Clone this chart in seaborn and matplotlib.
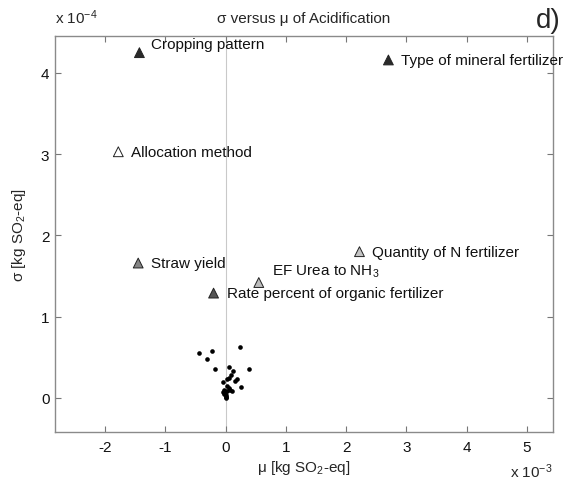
import matplotlib
matplotlib.use("Agg")
import matplotlib.pyplot as plt
import seaborn as sns
import pandas as pd
from matplotlib.ticker import FuncFormatter

# Labelled parameters: mean (mu) and standard deviation (sigma) of acidification
labels = ["Cropping pattern", "Type of mineral fertilizer", "Allocation method",
          "Straw yield", "EF Urea to NH$_3$", "Rate percent of organic fertilizer",
          "Quantity of N fertilizer"]
mu_lab = [-1.43e-3, 2.70e-3, -1.78e-3, -1.45e-3, 0.55e-3, -0.20e-3, 2.22e-3]
sigma_lab = [4.25e-4, 4.16e-4, 3.03e-4, 1.66e-4, 1.42e-4, 1.29e-4, 1.80e-4]
fills = ["#2a2a2a", "#2a2a2a", "#ffffff", "#858585", "#bdbdbd", "#555555", "#c4c4c4"]

# Remaining (minor) parameters
mu_dots = [-0.44e-3, -0.23e-3, -0.31e-3, -0.18e-3, 0.24e-3, 0.39e-3, 0.06e-3,
           0.12e-3, 0.09e-3, 0.055e-3, 0.03e-3, 0.19e-3, 0.15e-3, -0.05e-3,
           0.03e-3, 0.25e-3, 0.08e-3, 0.105e-3, -0.03e-3, -0.04e-3, -0.02e-3,
           0.0, 0.01e-3, 0.0, 0.02e-3, -0.01e-3, 0.05e-3, 0.0]
sigma_dots = [0.55e-4, 0.58e-4, 0.48e-4, 0.36e-4, 0.63e-4, 0.35e-4, 0.385e-4,
              0.335e-4, 0.28e-4, 0.245e-4, 0.235e-4, 0.235e-4, 0.205e-4, 0.20e-4,
              0.145e-4, 0.13e-4, 0.10e-4, 0.08e-4, 0.10e-4, 0.07e-4, 0.05e-4,
              0.03e-4, 0.01e-4, 0.0, 0.09e-4, 0.06e-4, 0.12e-4, 0.015e-4]

x_ticks = [-2, -1, 0, 1, 2, 3, 4, 5]
y_ticks = [0, 1, 2, 3, 4]

FS = 11

sns.set_style("ticks")
plt.rcParams["font.family"] = ["Liberation Sans", "DejaVu Sans"]
plt.rcParams["mathtext.fontset"] = "custom"
plt.rcParams["mathtext.rm"] = "Liberation Sans"
plt.rcParams["mathtext.it"] = "Liberation Sans:italic"
plt.rcParams["mathtext.default"] = "regular"

fig = plt.figure(figsize=(5.81, 4.81), dpi=100)
ax = fig.add_axes([55 / 581, 1 - 433 / 481, (553 - 55) / 581, (433 - 37) / 481])

ax.axvline(0, color="#c9c9c9", lw=0.8, zorder=0)

dots = pd.DataFrame({"mu": mu_dots, "sigma": sigma_dots})
sns.scatterplot(data=dots, x="mu", y="sigma", ax=ax, color="black", s=11,
                linewidth=0, marker="o", zorder=3)

lab = pd.DataFrame({"mu": mu_lab, "sigma": sigma_lab, "name": labels})
sns.scatterplot(data=lab, x="mu", y="sigma", hue="name", palette=dict(zip(labels, fills)),
                ax=ax, marker="^", s=50, edgecolor="#222222", linewidth=0.7,
                legend=False, zorder=4)

# text offsets in pixels (dx, dy) next to each marker
offsets = [(12, 9), (13, 0), (13, 0), (13, 0), (13, 12), (13, 0), (13, 0)]
for name, x, y, (dx, dy) in zip(labels, mu_lab, sigma_lab, offsets):
    ax.annotate(name, (x, y), xytext=(dx, dy), textcoords="offset pixels",
                ha="left", va="center", fontsize=FS, color="#111111")

ax.set_xlim(-2.83e-3, 5.43e-3)
ax.set_ylim(-0.42e-4, 4.455e-4)
ax.set_xticks([t * 1e-3 for t in x_ticks])
ax.set_yticks([t * 1e-4 for t in y_ticks])
ax.xaxis.set_major_formatter(FuncFormatter(lambda v, p: f"{v * 1e3:g}"))
ax.yaxis.set_major_formatter(FuncFormatter(lambda v, p: f"{v * 1e4:g}"))
ax.tick_params(direction="in", length=4, width=0.8, color="#777777",
               top=True, right=True, labelsize=FS, labelcolor="#111111")
ax.tick_params(axis="x", pad=6)
ax.tick_params(axis="y", pad=4)

for sp in ax.spines.values():
    sp.set_color("#8a8a8a")
    sp.set_linewidth(1.0)

ax.set_xlabel("μ [kg SO$_2$-eq]", fontsize=FS, labelpad=3)
ax.set_ylabel("σ [kg SO$_2$-eq]", fontsize=FS, labelpad=9)
ax.set_title("σ versus μ of Acidification", fontsize=FS, pad=10)

fig.text(55 / 581, 1 - 18 / 481, "x 10$^{-4}$", fontsize=FS, ha="left", va="center")
fig.text(553 / 581, 1 - 472 / 481, "x 10$^{-3}$", fontsize=FS, ha="right", va="center")
fig.text(561 / 581, 1 - 21 / 481, "d)", fontsize=20, ha="right", va="center")

fig.savefig("out.png", dpi=100, facecolor="white")
